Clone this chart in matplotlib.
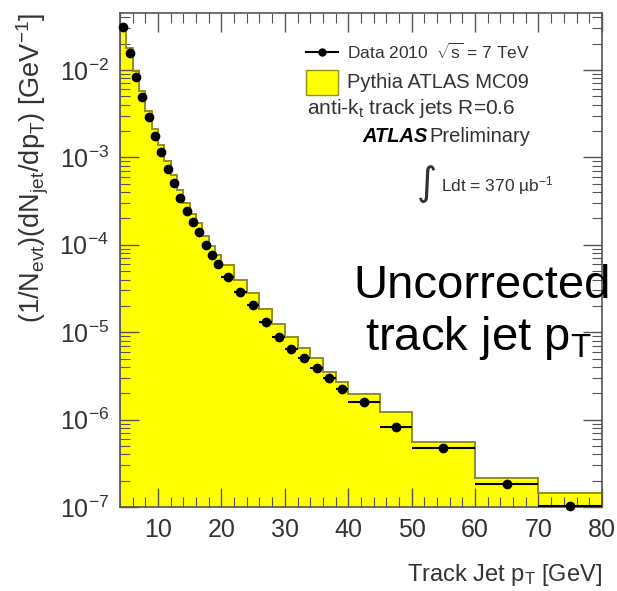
import numpy as np
import matplotlib
matplotlib.use("Agg")
import matplotlib.pyplot as plt
from matplotlib.ticker import LogLocator, MultipleLocator, NullFormatter
from matplotlib.patches import Rectangle
from matplotlib.lines import Line2D

plt.rcParams['font.family'] = ['Liberation Sans', 'DejaVu Sans']
plt.rcParams['mathtext.fontset'] = 'custom'
plt.rcParams['mathtext.rm'] = 'Liberation Sans'
plt.rcParams['mathtext.it'] = 'Liberation Sans:italic'
plt.rcParams['mathtext.bf'] = 'Liberation Sans:bold'

# bin edges [GeV]
bin_edges = [4, 5, 6, 7, 8, 9, 10, 11, 12, 13, 14, 15, 16, 17, 18, 19, 20,
             22, 24, 26, 28, 30, 32, 34, 36, 38, 40, 45, 50, 60, 70, 80]

# data 2010, (1/Nevt) dNjet/dpT [GeV^-1]
data_vals = [3.1e-2, 1.57e-2, 8.3e-3, 4.9e-3, 2.9e-3, 1.76e-3, 1.15e-3, 7.4e-4,
             5.1e-4, 3.4e-4, 2.44e-4, 1.82e-4, 1.40e-4, 9.95e-5, 7.6e-5, 6.0e-5,
             4.28e-5, 2.88e-5, 2.05e-5, 1.31e-5, 8.8e-6, 6.4e-6, 5.1e-6, 3.9e-6,
             3.0e-6, 2.24e-6, 1.59e-6, 8.2e-7, 4.7e-7, 1.83e-7, 1.02e-7]

# Pythia ATLAS MC09
mc_vals = [3.0e-2, 1.8e-2, 9.6e-3, 5.7e-3, 3.4e-3, 2.1e-3, 1.38e-3, 9.0e-4,
           6.2e-4, 4.2e-4, 3.0e-4, 2.25e-4, 1.75e-4, 1.26e-4, 9.7e-5, 7.7e-5,
           5.8e-5, 4.0e-5, 2.8e-5, 1.85e-5, 1.25e-5, 8.8e-6, 6.6e-6, 5.1e-6,
           3.5e-6, 2.7e-6, 1.96e-6, 1.22e-6, 5.5e-7, 2.15e-7, 1.45e-7]

edges = np.array(bin_edges, dtype=float)
centers = 0.5 * (edges[1:] + edges[:-1])
half_w = 0.5 * (edges[1:] - edges[:-1])

fig = plt.figure(figsize=(6.17, 5.91), dpi=100)
ax = fig.add_axes([0.1945, 0.142, 0.781, 0.836])

frame_col = '#555555'
txt_col = '#333333'
edge_col = '#8f8f20'

ax.stairs(mc_vals, edges, fill=True, color='#ffff00', baseline=1e-9, zorder=1)
ax.stairs(mc_vals, edges, fill=False, color=edge_col, linewidth=1.4,
          baseline=1e-9, zorder=2)

ax.errorbar(centers, data_vals, xerr=half_w, fmt='o', color='black',
            markersize=6, elinewidth=1.5, capsize=0, zorder=3, clip_on=False)

ax.set_yscale('log')
ax.set_xlim(4, 80)
ax.set_ylim(1e-7, 10 ** -1.35)

ax.xaxis.set_major_locator(MultipleLocator(10))
ax.xaxis.set_minor_locator(MultipleLocator(2))
ax.yaxis.set_major_locator(LogLocator(base=10, numticks=20))
ax.yaxis.set_minor_locator(LogLocator(base=10, subs=np.arange(2, 10), numticks=20))
ax.yaxis.set_minor_formatter(NullFormatter())

ax.tick_params(which='both', direction='in', top=True, right=True,
               color=frame_col, labelcolor=txt_col, labelsize=18)
ax.tick_params(which='major', length=14, width=1.0, pad=8)
ax.tick_params(which='minor', length=7, width=0.8)
for s in ax.spines.values():
    s.set_color(frame_col)
    s.set_linewidth(1.2)

ax.set_xlabel(r'Track Jet p$_{\rm T}$ [GeV]', fontsize=17, color=txt_col,
              loc='right', labelpad=14)
ax.set_ylabel(r'(1/N$_{\rm evt}$)(dN$_{\rm jet}$/dp$_{\rm T}$) [GeV$^{-1}$]',
              fontsize=19.5, color=txt_col, loc='top', labelpad=6)

# legend-like annotations (figure pixel placement)
W, H = 617.0, 591.0
def fx(px):
    return px / W
def fy(py):
    return 1 - py / H

fig.add_artist(Line2D([fx(306), fx(338)], [fy(52), fy(52)], color='black', lw=1.5))
fig.add_artist(Line2D([fx(322)], [fy(52)], marker='o', color='black', markersize=5))
fig.text(fx(347), fy(52), r'Data 2010  $\sqrt{\rm s}$ = 7 TeV', fontsize=12.5,
         color=txt_col, va='center')
fig.add_artist(Rectangle((fx(306), fy(95)), fx(338) - fx(306), fy(70) - fy(95),
                         facecolor='#ffff00', edgecolor=edge_col, lw=1.0))
fig.text(fx(347), fy(82), 'Pythia ATLAS MC09', fontsize=14.5, color=txt_col, va='center')
fig.text(fx(307), fy(109), r'anti-k$_{\rm t}$ track jets R=0.6', fontsize=15,
         color=txt_col, va='center')
fig.text(fx(362), fy(136), 'ATLAS', fontsize=14.5, color='black',
         va='center', fontweight='bold', fontstyle='italic')
fig.text(fx(429), fy(136), 'Preliminary', fontsize=14.5, color=txt_col, va='center')
fig.text(fx(437), fy(184), '\u222b', fontsize=28, color=txt_col, va='center',
         ha='right', family=['DejaVu Sans'])
fig.text(fx(441), fy(186), 'Ldt = 370 \u00b5b$^{-1}$', fontsize=12.5,
         color=txt_col, va='center')

# overlay annotation
fig.text(fx(482), fy(298), 'Uncorrected', fontsize=34, color='black',
         ha='center', va='baseline')
fig.text(fx(478), fy(350), r'track jet p$_{\rm T}$', fontsize=34, color='black',
         ha='center', va='baseline')

fig.savefig('out.png', dpi=100)
